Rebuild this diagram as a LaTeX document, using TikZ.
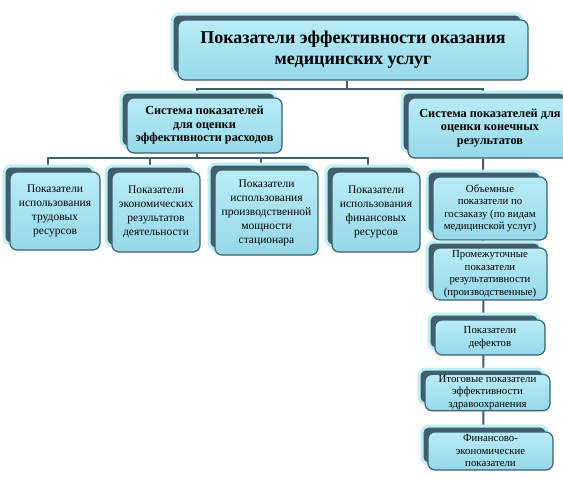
\documentclass[tikz,border=0pt]{standalone}
\usepackage{fontspec}
\setmainfont{Liberation Serif}
\usetikzlibrary{calc}
\pgfdeclarelayer{bg}
\pgfsetlayers{bg,main}
\definecolor{slate}{HTML}{3E5F6B}
\definecolor{glow}{HTML}{BDEFF8}
\definecolor{cyanA}{HTML}{B8ECF6}
\definecolor{cyanB}{HTML}{96D8E8}
\tikzset{
  backbox/.style={fill=slate, draw=glow, line width=3pt, rounded corners=7pt},
  frontbox/.style={draw=slate, line width=1.2pt, rounded corners=7pt, top color=cyanA, bottom color=cyanB, align=center, inner sep=1pt, text=black},
  conn/.style={draw=slate, line width=2pt},
  bigfont/.style={font=\fontsize{18}{21}\selectfont\bfseries},
  midfont/.style={font=\fontsize{12.3}{13.5}\selectfont\bfseries},
  smallfont/.style={font=\fontsize{11.5}{14}\selectfont},
  rfont/.style={font=\fontsize{10.8}{12.5}\selectfont},
}
\newcommand{\dbox}[7]{%
  \path[backbox] (#2-6,#3-6) rectangle (#4-6,#5-6);
  \node[frontbox, #6, minimum width={(#4-#2)*1pt}, minimum height={(#5-#3)*1pt}] (#1) at ({(#2+#4)/2},{(#3+#5)/2}) {#7};
}
\begin{document}
\begin{tikzpicture}[x=1pt,y=-1pt]
\useasboundingbox (0,0) rectangle (563,477);
\begin{pgfonlayer}{bg}
\fill[white] (0,0) rectangle (563,477);
\end{pgfonlayer}

\dbox{top}{178}{20}{528}{80}{bigfont}{Показатели эффективности оказания\\медицинских услуг}
\dbox{sys1}{127}{98}{282}{153}{midfont}{Система показателей\\для оценки\\эффективности расходов}
\dbox{sys2}{408}{98}{572}{158}{midfont}{Система показателей для\\оценки конечных\\результатов}

\dbox{c1}{10}{172}{100}{250}{smallfont}{Показатели\\использования\\трудовых\\ресурсов}
\dbox{c2}{112}{172}{200}{252}{smallfont}{Показатели\\экономических\\результатов\\деятельности}
\dbox{c3}{215}{170}{318}{255}{smallfont}{Показатели\\использования\\производственной\\мощности\\стационара}
\dbox{c4}{332}{172}{420}{252}{smallfont}{Показатели\\использования\\финансовых\\ресурсов}

\dbox{rA}{433}{177}{547}{240}{rfont}{Объемные\\показатели по\\госзаказу (по видам\\медицинской услуг)}
\dbox{rB}{433}{248}{547}{300}{rfont}{Промежуточные\\показатели\\результативности\\(производственные)}
\dbox{rC}{435}{320}{545}{355}{rfont}{Показатели\\дефектов}
\dbox{rD}{425}{375}{550}{410}{rfont}{Итоговые показатели\\эффективности\\здравоохранения}
\dbox{rE}{428}{432}{553}{470}{rfont}{Финансово-\\экономические\\показатели}

\begin{pgfonlayer}{bg}
\coordinate (bus0) at ($(top.south)+(-6,8)$);
\draw[conn] ($(top.south)+(-6,0)$) -- (bus0) -| ($(sys1.north)+(-8,0)$);
\draw[conn] (bus0) -| ($(sys2.north)+(-7,0)$);
\coordinate (bus1) at ($(sys1.south)+(-8,4)$);
\draw[conn] ($(sys1.south)+(-8,0)$) -- (bus1);
\draw[conn] ($(c1.north)+(-7,0)$) |- (bus1) -| ($(c4.north)+(-8,0)$);
\draw[conn] ($(c2.north)+(-6,0)$) coordinate (t2) -- (t2 |- bus1);
\draw[conn] ($(c3.north)+(-6,0)$) coordinate (t3) -- (t3 |- bus1);
\draw[conn] ($(sys2.south)+(-7,0)$) -- ($(rE.north)+(-7,0)$);
\end{pgfonlayer}
\end{tikzpicture}
\end{document}
